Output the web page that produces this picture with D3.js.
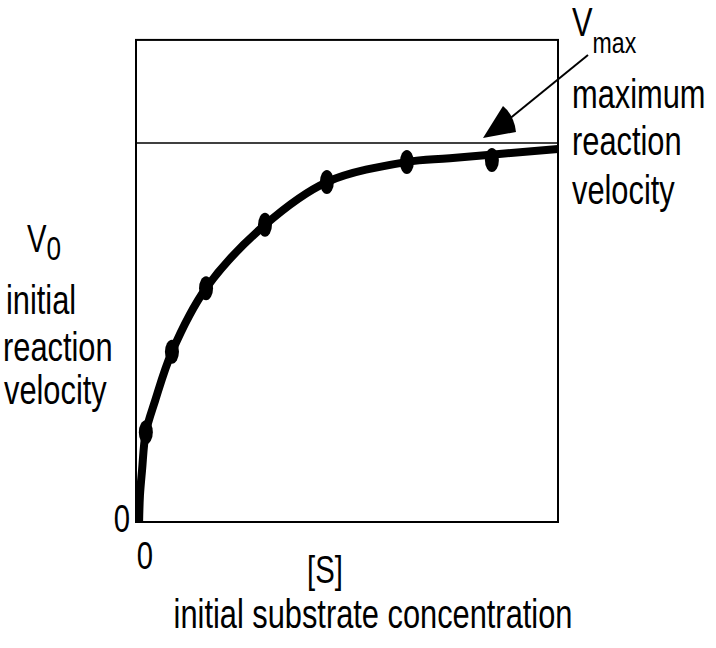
<!DOCTYPE html>
<html>
<head>
<meta charset="utf-8">
<script src="https://cdn.jsdelivr.net/npm/d3@7"></script>
<style>
  body { margin: 0; background: #fff; }
  text { font-family: "Liberation Sans", Arial, sans-serif; fill: #000; }
</style>
</head>
<body>
<div id="chart"></div>
<script>
var w = 716;
var h = 648;

// measured points (substrate conc., velocity as fraction of Vmax)
var sValues = [0.21, 0.83, 1.64, 3.04, 4.51, 6.41, 8.43];
var vValues = [0.237, 0.449, 0.617, 0.784, 0.897, 0.950, 0.955];
// hand drawn fit line
var curveS = [0.05, 0.07, 0.12, 0.21, 0.43, 0.83, 1.64, 3.04, 4.51, 6.41, 7.43, 10];
var curveV = [0, 0.07, 0.137, 0.237, 0.32, 0.449, 0.617, 0.784, 0.897, 0.950, 0.96, 0.984];
var vmax = 1;
var xTicks = ["0"];
var yTicks = ["0"];

var x = d3.scaleLinear().domain([0, 10]).range([137, 558]);
var y = d3.scaleLinear().domain([0, 1]).range([522, 143]);
var yTop = 1.272;

var svg = d3.select('#chart')
            .append("svg")
            .attr("width", w)
            .attr("height", h);

// frame
svg.append("rect")
   .attr("x", x(0) - 1)
   .attr("y", y(yTop))
   .attr("width", x(10) - x(0) + 1)
   .attr("height", y(0) - y(yTop))
   .attr("fill", "none")
   .attr("stroke", "#000")
   .attr("stroke-width", 2);

// Vmax line
svg.append("line")
   .attr("x1", x(0)).attr("x2", x(10))
   .attr("y1", y(vmax)).attr("y2", y(vmax))
   .attr("stroke", "#000")
   .attr("stroke-width", 1.5);

var curveData = curveS.map(function (d, i) { return [d, curveV[i]]; });
var line = d3.line()
             .x(function (d) { return x(d[0]); })
             .y(function (d) { return y(d[1]); })
             .curve(d3.curveCatmullRom.alpha(0.5));

svg.append("path")
   .datum(curveData)
   .attr("d", line)
   .attr("fill", "none")
   .attr("stroke", "#000")
   .attr("stroke-width", 8);

svg.selectAll("ellipse.pt")
   .data(sValues)
   .enter()
   .append("ellipse")
   .attr("class", "pt")
   .attr("cx", function (d) { return x(d); })
   .attr("cy", function (d, i) { return y(vValues[i]); })
   .attr("rx", 7)
   .attr("ry", 12)
   .attr("fill", "#000");

// arrow to Vmax
svg.append("line")
   .attr("x1", 588).attr("y1", 55)
   .attr("x2", 508).attr("y2", 120)
   .attr("stroke", "#000")
   .attr("stroke-width", 2);
svg.append("path")
   .attr("d", "M483,138 L503,106 Q514,115 516,132 Z")
   .attr("fill", "#000");

// narrow text helper
function label(tx, ty, str, size, anchor) {
  return svg.append("text")
            .attr("transform", "translate(" + tx + "," + ty + ") scale(0.77,1)")
            .attr("font-size", size)
            .attr("text-anchor", anchor || "start")
            .text(str);
}

// ticks
label(x(0) - 7, y(0) + 10, yTicks[0], 38, "end");
label(x(0) + 8, y(0) + 47, xTicks[0], 38, "middle");

// axis titles
label(325, 583, "[S]", 38, "middle");
label(373, 628, "initial substrate concentration", 40, "middle");

var v0 = label(27, 252, "V", 38);
v0.append("tspan").attr("font-size", 34).attr("dy", 8).text("0");
label(6, 314, "initial", 40);
label(3, 361, "reaction", 40);
label(4, 404, "velocity", 40);

var vm = label(572, 36, "V", 40);
vm.append("tspan").attr("font-size", 30).attr("dy", 17).text("max");
label(572, 108, "maximum", 40);
label(572, 155, "reaction", 40);
label(572, 204, "velocity", 40);
</script>
</body>
</html>
